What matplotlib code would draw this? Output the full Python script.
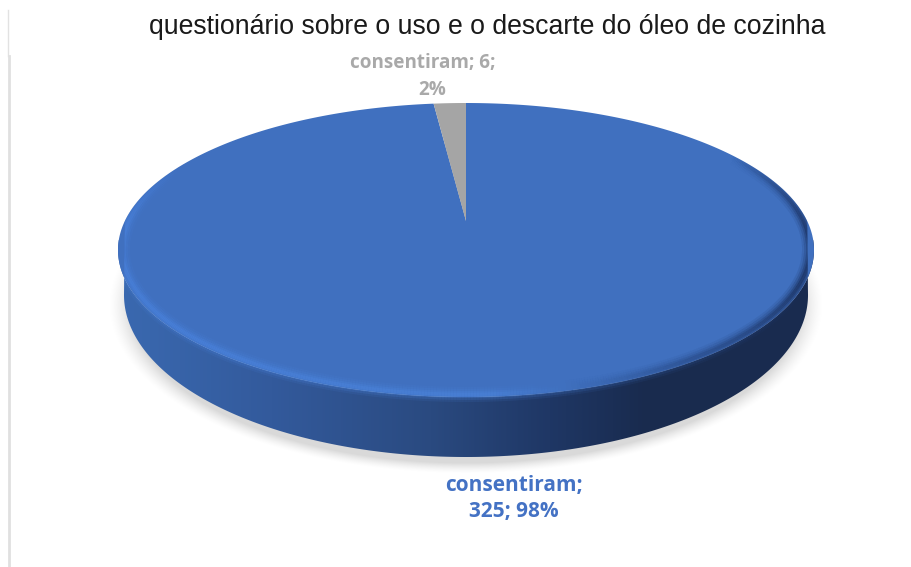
# -*- coding: utf-8 -*-

import numpy as np
import matplotlib.pyplot as plt
from matplotlib.collections import LineCollection
from matplotlib.colors import LinearSegmentedColormap
from matplotlib.patches import Polygon

titulo = 'questionário sobre o uso e o descarte do óleo de cozinha'
categorias = ['consentiram', 'consentiram']
valores = [325, 6]
percentuais = [98, 2]
cores = ['#4070bf', '#a5a5a5']
cores_rotulo = ['#4472c4', '#a9a9a9']

W, H = 911, 567

# geometria da pizza em pixels
CX = 466
TOPO, APICE, BASE = 103, 221, 397
RX = 348


def projeta(u, v):
    # perspectiva do disco unitario para a tela
    k = (2 * APICE - TOPO - BASE) / (TOPO - BASE)
    b = TOPO * (1 + k) - APICE
    a = RX * np.sqrt(1 - k ** 2)
    w = 1 + k * v
    return CX + a * u / w, (APICE + b * v) / w


def arco(t0, t1, n=200, r=1.0):
    # t em graus, sentido horario a partir do topo
    t = np.radians(np.linspace(t0, t1, n))
    return projeta(r * np.sin(t), r * np.cos(t))


fig = plt.figure(figsize=(W / 100, H / 100), dpi=100, facecolor='white')
ax = fig.add_axes([0, 0, 1, 1])
ax.set_xlim(0, W)
ax.set_ylim(H, 0)
ax.axis('off')

# grade em pixels para a sombra
xx, yy = np.meshgrid(np.arange(W) + 0.5, np.arange(H) + 0.5)

# sombra difusa sob o disco
d = np.sqrt(((xx - 466) / 335) ** 2 + ((yy - 305) / 158) ** 2)
sombra = np.zeros((H, W, 4))
sombra[..., 3] = np.clip((1.07 - d) / 0.07, 0, 1) ** 1.5 * 0.15
ax.imshow(sombra, extent=(0, W, H, 0), zorder=1, interpolation='bilinear', aspect='auto')

# lateral do disco com gradiente horizontal
t = np.radians(np.linspace(90, 270, 300))
base_x = 466 + 342 * np.sin(t)
base_y = 295 - 162 * np.cos(t)
fx, fy = arco(270, 90, 300)
contorno = np.column_stack([np.r_[base_x, fx], np.r_[base_y, fy]])
mapa = LinearSegmentedColormap.from_list(
    'lateral',
    [(0, '#3a69b0'), (0.22, '#335a9c'), (0.45, '#2a4a80'), (0.62, '#1f3765'),
     (0.76, '#192b4e'), (1, '#1a2c50')])
grad = np.linspace(0, 1, 512).reshape(1, -1)
img = ax.imshow(grad, cmap=mapa, extent=(118, 814, 460, 240), aspect='auto',
                zorder=2, interpolation='bilinear')
lado = Polygon(contorno, closed=True, transform=ax.transData, facecolor='none', edgecolor='none')
ax.add_patch(lado)
img.set_clip_path(lado)

# fatias: comecam no topo, a maior em sentido horario
total = sum(valores)
angulo = 0
cx0, cy0 = projeta(0, 0)
for valor, cor in zip(valores, cores):
    fim = angulo + valor / total * 360
    px, py = arco(angulo, fim, 400)
    ax.add_patch(Polygon(np.column_stack([np.r_[cx0, px], np.r_[cy0, py]]),
                         closed=True, facecolor=cor, edgecolor='none', zorder=3))
    angulo = fim

# silhueta do disco, usada para recortar o brilho
cima_x, cima_y = arco(-90, 90, 300)
silhueta = Polygon(np.column_stack([np.r_[cima_x, base_x], np.r_[cima_y, base_y]]),
                   closed=True, transform=ax.transData, facecolor='none', edgecolor='none')
ax.add_patch(silhueta)

# borda frontal: brilho claro a esquerda, escura a direita
ang = np.linspace(60, 296, 600)
bx, by = arco(60, 296, 600, r=0.988)
pts = np.column_stack([bx, by]).reshape(-1, 1, 2)
segs = np.concatenate([pts[:-1], pts[1:]], axis=1)
meio = (ang[:-1] + ang[1:]) / 2
pos = (meio - 90) / 180
mapa_borda = LinearSegmentedColormap.from_list(
    'borda',
    [(0, '#1a2f5c'), (0.14, '#1a2f5c'), (0.32, '#2c5090'), (0.48, '#4a82d8'),
     (0.75, '#4a82dc'), (1, '#4a82dc')])
rgba = mapa_borda(np.clip(pos, 0, 1))
# as pontas do brilho somem aos poucos
fade = np.clip((meio - 60) / 35, 0, 1) * np.clip((296 - meio) / 30, 0, 1)
for lw, a in [(11, 0.12), (8, 0.2), (5, 0.35), (2.5, 0.5)]:
    c = rgba.copy()
    c[:, 3] = a * fade
    lc = LineCollection(segs, colors=c, linewidths=lw, zorder=4, capstyle='butt')
    ax.add_collection(lc)
    lc.set_clip_path(silhueta)

ax.text(487, 27, titulo, family='Liberation Sans', fontsize=19.2, color='#1a1a1a',
        ha='center', va='center', zorder=6)

# rotulos de dados
fonte_rotulo = ['Open Sans', 'DejaVu Sans']
ax.text(514, 485, f'{categorias[0]};', family=fonte_rotulo, fontweight='bold', fontsize=15,
        color=cores_rotulo[0], ha='center', va='center', zorder=6)
ax.text(514, 512, f'{valores[0]}; {percentuais[0]}%', family=fonte_rotulo, fontweight='bold', fontsize=15,
        color=cores_rotulo[0], ha='center', va='center', zorder=6)
ax.text(423, 63, f'{categorias[1]}; {valores[1]};', family=fonte_rotulo, fontweight='bold', fontsize=13.6,
        color=cores_rotulo[1], ha='center', va='center', zorder=6)
ax.text(432, 90, f'{percentuais[1]}%', family=fonte_rotulo, fontweight='bold', fontsize=13.6,
        color=cores_rotulo[1], ha='center', va='center', zorder=6)

# fios da moldura a esquerda
ax.plot([7.5, 7.5], [10, 56], color='#e2e2e2', lw=1, zorder=1)
ax.plot([8.5, 8.5], [56, 566], color='#e0e0e0', lw=2, zorder=1)

ax.set_xlim(0, W)
ax.set_ylim(H, 0)
fig.savefig('out.png', dpi=100)
